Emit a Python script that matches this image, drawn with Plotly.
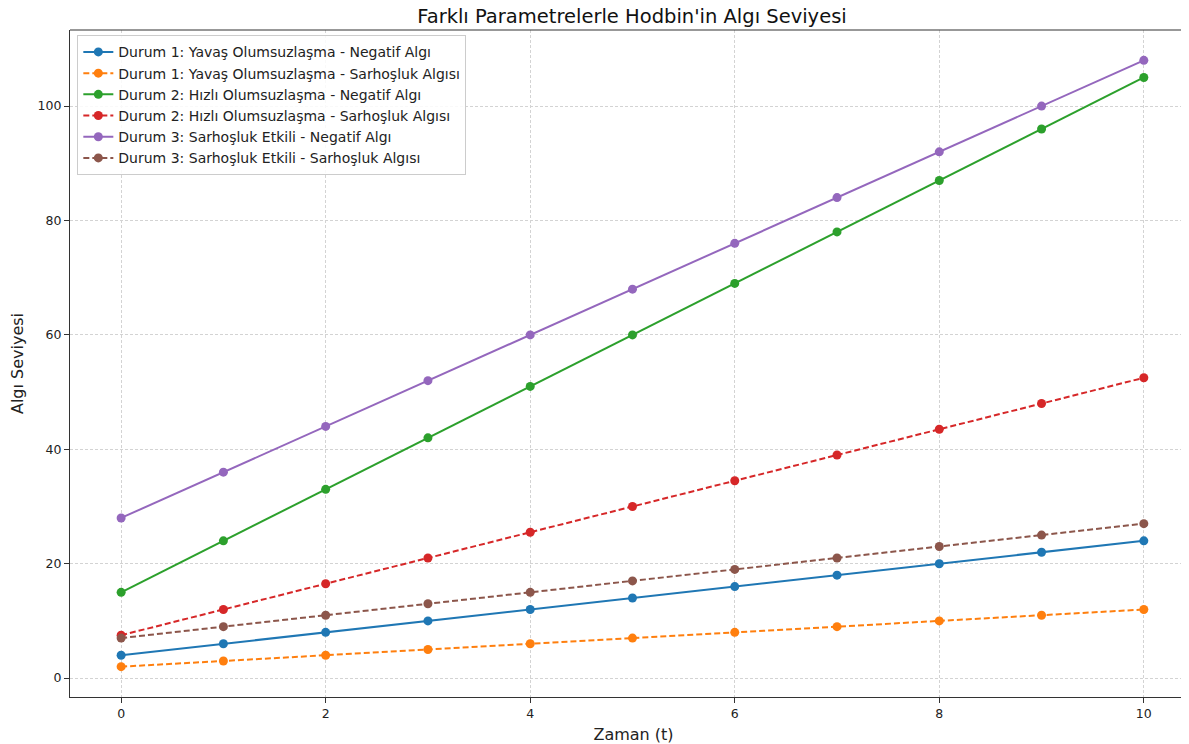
import plotly.graph_objects as go

t = list(range(11))
d1_neg = [4, 6, 8, 10, 12, 14, 16, 18, 20, 22, 24]
d1_sar = [2, 3, 4, 5, 6, 7, 8, 9, 10, 11, 12]
d2_neg = [15, 24, 33, 42, 51, 60, 69, 78, 87, 96, 105]
d2_sar = [7.5, 12, 16.5, 21, 25.5, 30, 34.5, 39, 43.5, 48, 52.5]
d3_neg = [28, 36, 44, 52, 60, 68, 76, 84, 92, 100, 108]
d3_sar = [7, 9, 11, 13, 15, 17, 19, 21, 23, 25, 27]

series = [
    ("Durum 1: Yavaş Olumsuzlaşma - Negatif Algı", d1_neg, "#1f77b4", "solid"),
    ("Durum 1: Yavaş Olumsuzlaşma - Sarhoşluk Algısı", d1_sar, "#ff7f0e", "dash"),
    ("Durum 2: Hızlı Olumsuzlaşma - Negatif Algı", d2_neg, "#2ca02c", "solid"),
    ("Durum 2: Hızlı Olumsuzlaşma - Sarhoşluk Algısı", d2_sar, "#d62728", "dash"),
    ("Durum 3: Sarhoşluk Etkili - Negatif Algı", d3_neg, "#9467bd", "solid"),
    ("Durum 3: Sarhoşluk Etkili - Sarhoşluk Algısı", d3_sar, "#8c564b", "dash"),
]

fig = go.Figure()
for name, vals, color, dash in series:
    fig.add_trace(go.Scatter(
        x=t, y=vals, name=name, mode="lines+markers",
        line=dict(color=color, width=2, dash=dash if dash == "solid" else "6px,3px"),
        marker=dict(color=color, size=9),
    ))

fig.update_layout(
    width=1189, height=744,
    margin=dict(l=62, r=0, t=22, b=55),
    paper_bgcolor="white", plot_bgcolor="white",
    font=dict(family="DejaVu Sans", color="#222", size=13),
    title=dict(text="Farklı Parametrelerle Hodbin'in Algı Seviyesi",
               x=624 / 1189, xanchor="center", xref="container",
               y=1 - 8 / 744, yanchor="middle", yref="container",
               font=dict(size=19.5, color="#111")),
    showlegend=True,
    legend=dict(x=0.0065, y=0.992, xanchor="left", yanchor="top",
                bgcolor="rgba(255,255,255,0.85)", bordercolor="#cccccc", borderwidth=1,
                font=dict(size=14), tracegroupgap=0, itemwidth=30),
    xaxis=dict(range=[-0.5, 10.52], tickvals=[0, 2, 4, 6, 8, 10],
               showgrid=True, gridcolor="#d3d3d3", griddash="3px,2px", gridwidth=1,
               showline=True, linecolor="#333", linewidth=1.2,
               ticks="outside", ticklen=5, tickcolor="#333",
               zeroline=False, tickfont=dict(size=12.5),
               title=dict(text="Zaman (t)", font=dict(size=16), standoff=8)),
    yaxis=dict(range=[-3.3, 113.3], tickvals=[0, 20, 40, 60, 80, 100],
               showgrid=True, gridcolor="#d3d3d3", griddash="3px,2px", gridwidth=1,
               showline=True, linecolor="#333", linewidth=1.2,
               ticks="outside", ticklen=5, tickcolor="#333",
               zeroline=False, tickfont=dict(size=12.5),
               title=dict(text="Algı Seviyesi", font=dict(size=16), standoff=12)),
    shapes=[dict(type="line", xref="paper", yref="paper", x0=0, x1=1, y0=1, y1=1,
                 line=dict(color="#333", width=1.2))],
)

fig.write_html("out.html")
